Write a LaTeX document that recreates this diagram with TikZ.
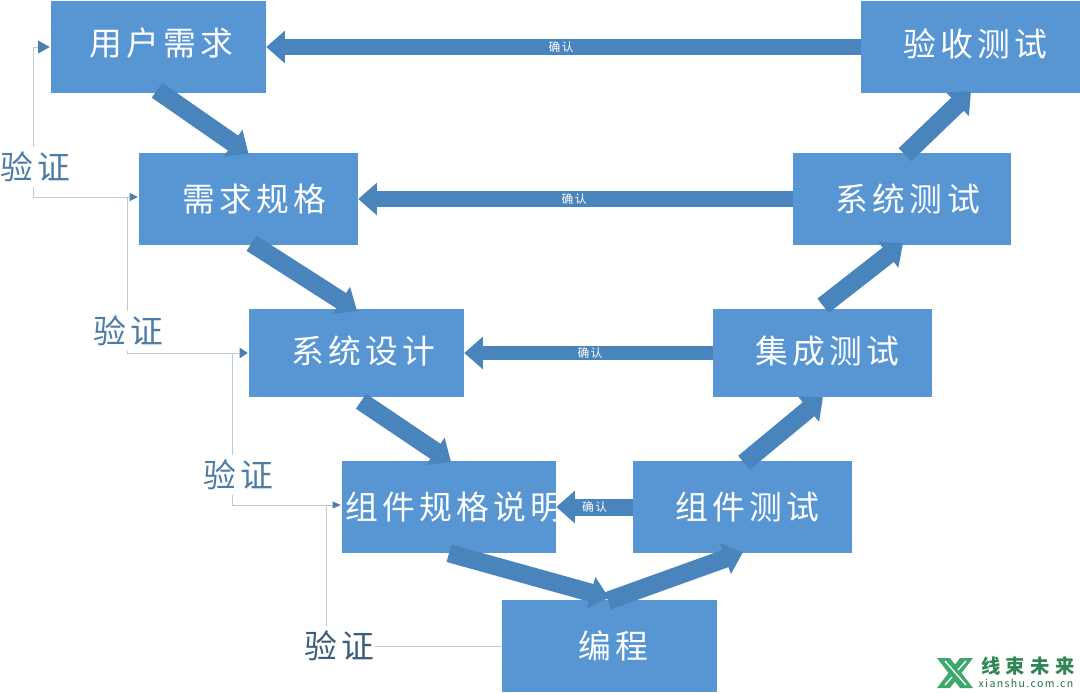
\documentclass[tikz,border=0pt]{standalone}
\usepackage{fontspec}
\usetikzlibrary{arrows.meta,calc}
\newfontfamily\cjk[LetterSpace=13]{Noto Sans CJK SC}
\newfontfamily\cjkwide[LetterSpace=28]{Noto Sans CJK SC}
\newcommand{\liftby}[2]{\raisebox{#1}[\height][\depth]{#2}}
\definecolor{boxblue}{HTML}{5796D2}
\definecolor{arrowblue}{HTML}{4A84BC}
\definecolor{thinblue}{HTML}{BCCBDB}
\definecolor{tipblue}{HTML}{4F7FA8}
\definecolor{checkblue}{HTML}{4F7CA6}
\definecolor{logogreen}{HTML}{3FA86C}
\tikzset{
  blockbox/.style n args={2}{fill=boxblue, text=white, inner sep=0pt,
    minimum width=#1*0.03cm, minimum height=#2*0.03cm,
    font=\cjk\fontsize{28}{30}\selectfont},
  nudge/.style={execute at begin node={\hspace{#1pt}}},
  bigarrow/.style={draw=arrowblue, line width=14.5pt,
    -{Triangle[length=16pt,width=27pt]}},
  slantarrow/.style={bigarrow, line width=15.5pt},
  confirm/.style={text=white, inner sep=0pt, font=\cjk\fontsize{10}{11}\selectfont},
  checkline/.style={draw=thinblue, line width=0.8pt},
  checktip/.style 2 args={-{Triangle[length=#1pt,width=#2pt,color=tipblue]}},
  checklabel/.style={fill=white, text=checkblue, inner xsep=1pt, inner ysep=4pt,
    font=\cjk\fontsize{28}{30}\selectfont}
}
\begin{document}
\begin{tikzpicture}[x=0.03cm, y=-0.03cm]
\useasboundingbox (0,0) rectangle (1080,693);

% left branch
\node[blockbox={215}{92}, nudge=5] (user) at (158.5,47) {\liftby{3pt}{用户需求}};
\node[blockbox={219}{92}, nudge=10] (spec) at (248.5,199) {需求规格};
\node[blockbox={215}{88}, nudge=12] (design) at (356.5,353) {\liftby{1.5pt}{系统设计}};
\node[blockbox={214}{92}] (part) at (449,507) {\makebox[0pt]{\hspace{9pt}组件规格说明}};
% right branch
\node[blockbox={219}{92}, nudge=8] (accept) at (970.5,47) {\liftby{3pt}{验收测试}};
\node[blockbox={218}{92}, nudge=10] (systest) at (902,199) {系统测试};
\node[blockbox={219}{88}, nudge=9] (integ) at (822.5,353) {\liftby{1.5pt}{集成测试}};
\node[blockbox={219}{92}, nudge=8] (parttest) at (742.5,507) {组件测试};
\node[blockbox={215}{92}, nudge=6] (code) at (609.5,646) {编程};

% going down the V
\draw[slantarrow] ([shift={(-1.5,-3)}]user.south) -- ([shift={(0,1)}]spec.north);
\draw[slantarrow] ([shift={(3,-2)}]spec.south) -- ([shift={(0.5,2)}]design.north);
\draw[slantarrow] ([shift={(4.5,4)}]design.south) -- ([shift={(2,1)}]part.north);
\draw[slantarrow] ([shift={(0,0)}]part.south) -- ([shift={(-0.5,-2)}]code.north);
% going up the V
\draw[slantarrow] ([shift={(-1.5,1)}]code.north) -- ([shift={(0.5,-1)}]parttest.south);
\draw[slantarrow] ([shift={(1.5,2)}]parttest.north) -- ([shift={(0.5,0)}]integ.south);
\draw[slantarrow] ([shift={(0.5,-3)}]integ.north) -- ([shift={(1,-2)}]systest.south);
\draw[slantarrow] ([shift={(3,2)}]systest.north) -- ([shift={(0.5,-2)}]accept.south);

% confirm arrows across
\draw[bigarrow] (accept.west) -- node[confirm, pos=0.504] {确认} (user.east);
\draw[bigarrow] (systest.west) -- node[confirm, pos=0.503] {确认} (spec.east);
\draw[bigarrow, line width=12pt] (integ.west) -- node[confirm, pos=0.494] {确认} (design.east);
\draw[bigarrow] (parttest.west) -- node[confirm] {确认} (part.east);

% check lines on the left
\coordinate (turnA) at (33,197);
\coordinate (turnB) at (127,353);
\coordinate (turnC) at (232,505);
\coordinate (turnD) at (326,646);
\draw[checkline, checktip={10}{11}] (turnA) |- ([shift={(-1,0)}]user.west);
\draw[checkline, checktip={7}{7}] (turnA) -- ([shift={(-1,-2)}]spec.west);
\draw[checkline] (turnB) -- (turnB |- turnA);
\draw[checkline] (turnC) -- (turnC |- turnB);
\draw[checkline] (turnD) -- (turnD |- turnC);

\node[checklabel] (checkA) at (35,167) {验证};
\node[checklabel] (checkB) at (128,331) {验证};
\node[checklabel] (checkC) at (238,475) {验证};
\node[checklabel, text=checkblue!75!black] (checkD) at (339,646) {验证};

% these run under the labels' lower edges, so they come last
\draw[checkline, checktip={7}{9}] (turnB) -- ([shift={(-1,0)}]design.west);
\draw[checkline, checktip={7}{6}] (turnC) -- ([shift={(-1,-2)}]part.west);
\draw[checkline] (code.west) -- (checkD.east);

% logo, lower right
\fill[logogreen] (937,658) -- (950,658) -- (973,688) -- (960,688) -- cycle;
\fill[logogreen] (973,658) -- (960,658) -- (937,688) -- (950,688) -- cycle;
\draw[white, line width=1.1pt] (945,661) -- (966,685);
\draw[white, line width=1.1pt] (966,661) -- (958,670) (952,677) -- (945,685);
\node[inner sep=0pt, text=logogreen!80!black, font=\cjkwide\bfseries\fontsize{16.5}{17}\selectfont] (logoname) at (1028,666.5) {线束未来};
\node[inner sep=0pt, text=logogreen!65!black, font=\cjk\fontsize{9}{10}\selectfont] (logourl) at (1026,683) {xianshu.com.cn};
\end{tikzpicture}
\end{document}
